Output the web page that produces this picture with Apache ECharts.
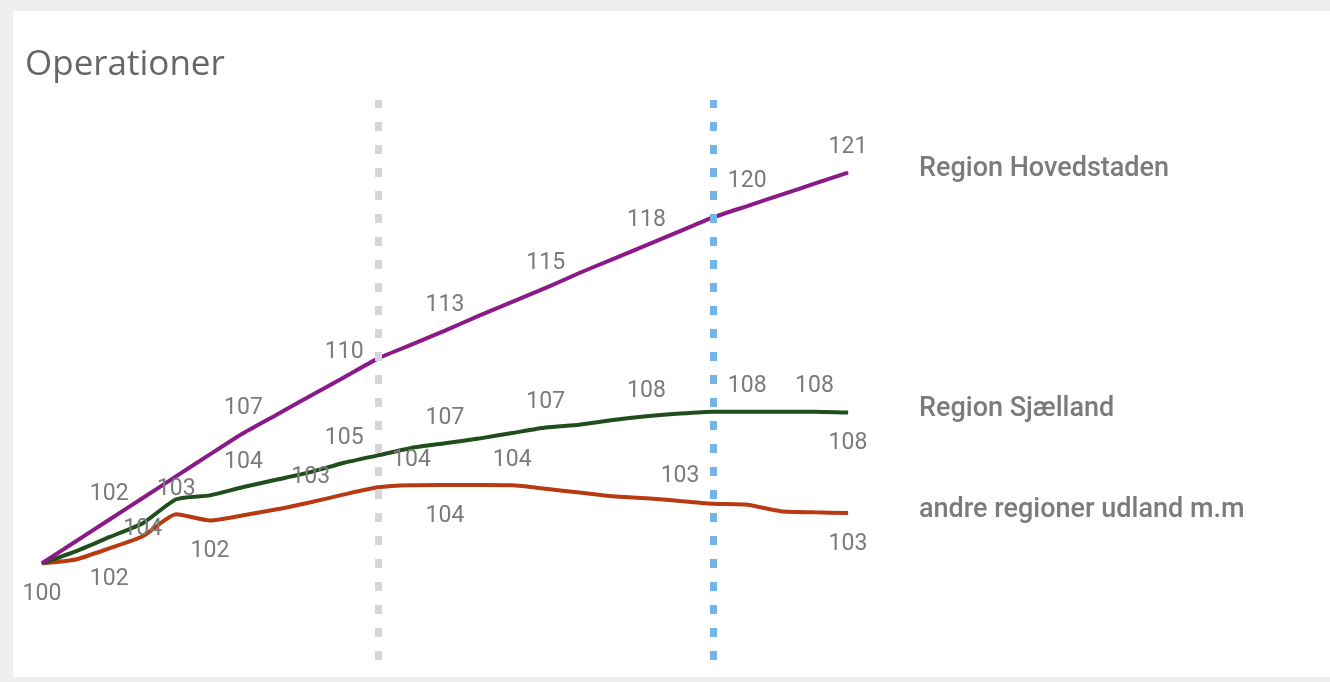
<!DOCTYPE html>
<html>
<head>
<meta charset="utf-8">
<script src="https://cdn.jsdelivr.net/npm/echarts@6/dist/echarts.min.js"></script>
<style>
  html, body { margin: 0; padding: 0; background: #efefef; width: 1330px; height: 682px; overflow: hidden; }
  #c { position: absolute; left: 13px; top: 11px; width: 1317px; height: 666px; background: #ffffff; }
</style>
</head>
<body>
<div id="c"></div>
<script>
const categories = ['1','2','3','4','5','6','7','8','9','10','11','12','13','14','15','16','17','18','19','20','21','22','23','24','25'];

const seriesNames = ['Region Hovedstaden', 'Region Sjælland', 'andre regioner udland m.m'];

const hovedstaden = [100.0, 101.17, 102.34, 103.51, 104.68, 105.85, 107.0, 108.0, 109.0, 110.0, 111.0, 111.75, 112.5, 113.3, 114.05, 114.8, 115.6, 116.35, 117.1, 117.85, 118.6, 119.2, 119.8, 120.4, 121.0];
const sjaelland   = [100.0, 100.64, 101.4, 102.15, 103.44, 103.65, 104.1, 104.5, 104.9, 105.4, 105.8, 106.2, 106.45, 106.7, 107.0, 107.3, 107.45, 107.7, 107.9, 108.05, 108.15, 108.15, 108.15, 108.15, 108.1];
const andre       = [100.0, 100.2, 100.8, 101.45, 102.63, 102.3, 102.58, 102.9, 103.28, 103.7, 104.08, 104.19, 104.2, 104.2, 104.19, 104.0, 103.8, 103.6, 103.5, 103.35, 103.2, 103.14, 102.8, 102.74, 102.7];

// data label texts as shown in the chart (null = no label)
const hovedLabels = [null,null,'102','104',null,null,'107',null,null,'110',null,null,'113',null,null,'115',null,null,'118',null,null,'120',null,null,'121'];
const sjaLabels   = [null,null,null,null,null,null,'104',null,null,'105',null,null,'107',null,null,'107',null,null,'108',null,null,'108',null,'108','108'];
const andreLabels = ['100',null,'102',null,'103','102',null,null,'103',null,null,'104','104',null,'104',null,null,null,null,'103',null,null,null,null,'103'];

// label side per point: 'b' = below, otherwise above
const hovedSide = [null,null,'t','b',null,null,'t',null,null,'t',null,null,'t',null,null,'t',null,null,'t',null,null,'t',null,null,'t'];
const sjaSide   = [null,null,null,null,null,null,'t',null,null,'t',null,null,'t',null,null,'t',null,null,'t',null,null,'t',null,'t','b'];
const andreSide = ['b',null,'b',null,'t','b',null,null,'t',null,null,'t','b',null,'t',null,null,null,null,'t',null,null,null,null,'b'];

const markLineCats = ['11', '21'];

const labelFont = { fontFamily: 'Roboto', fontSize: 23, color: '#7b7b7b' };

function buildData(values, texts, sides) {
  return values.map((v, i) => {
    if (texts[i] == null) return { value: v, label: { show: false } };
    return {
      value: v,
      label: Object.assign({
        show: true,
        position: sides[i] === 'b' ? 'bottom' : 'top',
        distance: 16,
        offset: [0, 3],
        formatter: texts[i]
      }, labelFont)
    };
  });
}

function lineSeries(name, values, texts, sides, color) {
  return {
    name: name,
    type: 'line',
    z: 3,
    data: buildData(values, texts, sides),
    smooth: 0.2,
    symbol: 'circle',
    symbolSize: 1,
    showSymbol: true,
    itemStyle: { color: color },
    lineStyle: { color: color, width: 4 },
    emphasis: { disabled: true },
    endLabel: {
      show: true,
      formatter: name,
      position: 'right',
      distance: 71,
      offset: [0, -3],
      fontFamily: 'Roboto',
      fontSize: 27,
      fontWeight: 500,
      color: '#7b7b7b'
    }
  };
}

const chart = echarts.init(document.getElementById('c'), null, { renderer: 'canvas' });
chart.setOption({
  animation: false,
  backgroundColor: '#ffffff',
  title: {
    text: 'Operationer',
    left: 12,
    top: 37,
    padding: 0,
    textStyle: { fontFamily: 'Open Sans', fontSize: 35, fontWeight: 'normal', color: '#666666' }
  },
  grid: { left: 29, right: 482, top: 89, bottom: 17 },
  xAxis: {
    type: 'category',
    data: categories,
    boundaryGap: false,
    show: false
  },
  yAxis: {
    type: 'value',
    min: 94.8,
    max: 124.9,
    show: false,
    splitLine: { show: false }
  },
  series: [
    {
      name: 'marks',
      type: 'line',
      z: 1,
      data: [],
      markLine: {
        silent: true,
        symbol: 'none',
        label: { show: false },
        data: [
          { xAxis: markLineCats[0], lineStyle: { color: '#d6d6d6', width: 7, type: [9, 14] } },
          { xAxis: markLineCats[1], lineStyle: { color: '#74b4e6', width: 7, type: [9, 14] } }
        ]
      }
    },
    lineSeries(seriesNames[2], andre, andreLabels, andreSide, '#b83a12'),
    lineSeries(seriesNames[1], sjaelland, sjaLabels, sjaSide, '#1f4d1c'),
    lineSeries(seriesNames[0], hovedstaden, hovedLabels, hovedSide, '#8b1a89')
  ]
});
</script>
</body>
</html>
